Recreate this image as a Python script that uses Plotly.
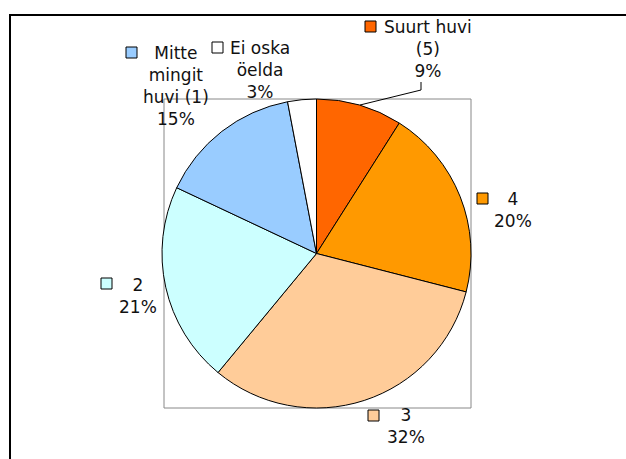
import plotly.graph_objects as go

# answers to the interest question, clockwise from 12 o'clock
categories = ["Suurt huvi (5)", "4", "3", "2", "Mitte mingit huvi (1)", "Ei oska öelda"]
label_text = ["Suurt huvi<br>(5)", "4", "3", "2", "Mitte<br>mingit<br>huvi (1)", "Ei oska<br>öelda"]
shares = [9, 20, 32, 21, 15, 3]
colors = ["#FF6600", "#FF9900", "#FFCC99", "#CCFFFF", "#99CCFF", "#FFFFFF"]

W, H = 626, 459

# label block centres and legend-key corners, in window pixels
label_pos = [(428, 49), (513, 210), (406, 426), (138, 296), (176, 86), (260, 70)]
key_pos = [(365, 21), (477, 193), (368, 410), (101, 278), (126, 47), (212, 42)]


def px(x):
    return x / W


def py(y):
    return 1 - y / H


fig = go.Figure(
    go.Pie(
        labels=categories,
        values=shares,
        sort=False,
        direction="clockwise",
        rotation=0,
        textinfo="none",
        hoverinfo="label+percent",
        marker={"colors": colors, "line": {"color": "#000000", "width": 1}},
        domain={"x": [px(162), px(471)], "y": [py(408), py(99)]},
        showlegend=False,
    )
)

total = sum(shares)
for text, share, (cx, cy) in zip(label_text, shares, label_pos):
    fig.add_annotation(
        x=px(cx),
        y=py(cy),
        xref="paper",
        yref="paper",
        text=f"{text}<br>{share / total * 100:.0f}%",
        showarrow=False,
        xanchor="center",
        yanchor="middle",
        align="center",
        font={"family": "DejaVu Sans", "size": 17, "color": "#111111"},
    )

shapes = [
    # outer chart frame (cut off on the right and bottom)
    {"type": "rect", "xref": "paper", "yref": "paper",
     "x0": px(10), "y0": py(15), "x1": px(680), "y1": py(500),
     "line": {"color": "#000000", "width": 2}},
    # plot area
    {"type": "rect", "xref": "paper", "yref": "paper", "layer": "below",
     "x0": px(164), "y0": py(99), "x1": px(471), "y1": py(408),
     "line": {"color": "#888888", "width": 1}},
    # leader line for the small top slice
    {"type": "path", "xref": "paper", "yref": "paper",
     "path": f"M {px(421)} {py(82)} L {px(421)} {py(90)} L {px(360)} {py(105)}",
     "line": {"color": "#000000", "width": 1}},
]
for color, (x0, y0) in zip(colors, key_pos):
    shapes.append(
        {"type": "rect", "xref": "paper", "yref": "paper",
         "x0": px(x0), "y0": py(y0), "x1": px(x0 + 11), "y1": py(y0 + 11),
         "fillcolor": color, "line": {"color": "#000000", "width": 1}}
    )

fig.update_layout(
    width=W,
    height=H,
    margin={"l": 0, "r": 0, "t": 0, "b": 0},
    paper_bgcolor="#FFFFFF",
    plot_bgcolor="#FFFFFF",
    shapes=shapes,
)

# drop the default page margin so the figure fills the window exactly
fig.write_html(
    "out.html",
    config={"displayModeBar": False},
    post_script="document.body.style.margin='0';document.body.style.overflow='hidden';",
)
